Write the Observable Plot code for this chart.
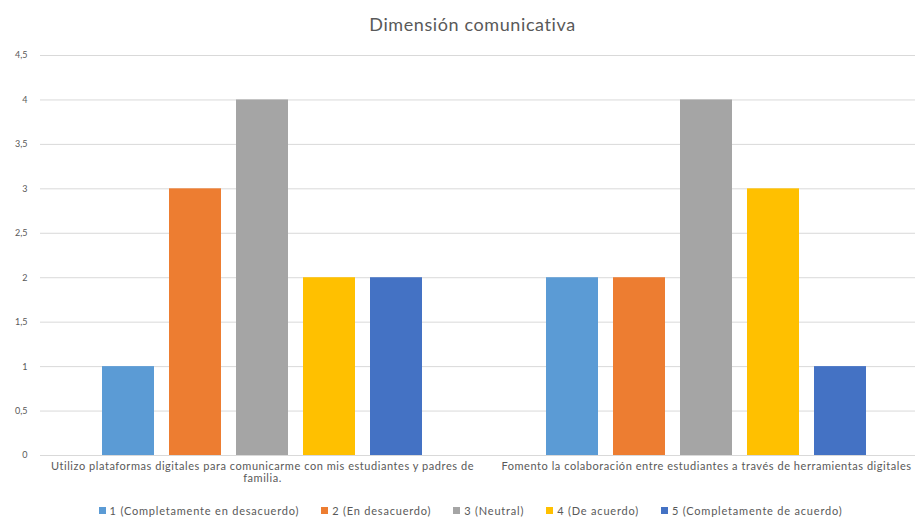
<!DOCTYPE html>
<html><head><meta charset="utf-8">
<script src="https://cdn.jsdelivr.net/npm/d3@7"></script>
<script src="https://cdn.jsdelivr.net/npm/@observablehq/plot@0.6"></script>
<style>
body{margin:0;background:#fff;font-family:Lato,"Open Sans",sans-serif;width:915px;overflow:hidden}
#title{height:44px;text-align:center;font-size:18px;letter-spacing:0.6px;color:#595959;line-height:20px;padding-top:14px;padding-left:30px;box-sizing:border-box}
#legend{padding-left:48px}
#legend .lg-swatches-wrap{justify-content:center !important;min-height:20px !important;margin:0 !important}
#legend .lg-swatch{margin-right:22px !important}
#legend .lg-swatch>svg{margin-right:4px !important}
</style></head><body>
<div id="title">Dimensión comunicativa</div>
<div id="chart"></div>
<div id="legend"></div>
<script>
const categories = [
  "Utilizo plataformas digitales para comunicarme con mis estudiantes y padres de familia.",
  "Fomento la colaboración entre estudiantes a través de herramientas digitales"
];
const categoryLabels = [
  "Utilizo plataformas digitales para comunicarme con mis estudiantes y padres de\nfamilia.",
  "Fomento la colaboración entre estudiantes a través de herramientas digitales"
];
const series = [
  "1 (Completamente en desacuerdo)",
  "2 (En desacuerdo)",
  "3 (Neutral)",
  "4 (De acuerdo)",
  "5 (Completamente de acuerdo)"
];
const valuesItem1 = [1, 3, 4, 2, 2];
const valuesItem2 = [2, 2, 4, 3, 1];
const colors = ["#5B9BD5", "#ED7D31", "#A5A5A5", "#FFC000", "#4472C4"];
const yTicks = [0, 0.5, 1, 1.5, 2, 2.5, 3, 3.5, 4, 4.5];
const yTickLabels = ["0", "0,5", "1", "1,5", "2", "2,5", "3", "3,5", "4", "4,5"];

const rows = [];
[valuesItem1, valuesItem2].forEach((vals, i) =>
  vals.forEach((v, j) => rows.push({item: categories[i], serie: series[j], value: v})));

const chart = Plot.plot({
  width: 915, height: 456,
  marginTop: 11, marginBottom: 45, marginLeft: 40, marginRight: -13,
  style: {fontFamily: "Lato, sans-serif", fontSize: "9px", color: "#595959", background: "#fff", overflow: "visible"},
  fx: {domain: categories, padding: 0, label: null, axis: null},
  x: {domain: series, paddingInner: 0.22, paddingOuter: 0.875, axis: null},
  y: {domain: [0, 4.5], label: null, axis: null},
  color: {domain: series, range: colors},
  marks: [
    Plot.gridY(yTicks, {stroke: "#d9d9d9", strokeOpacity: 1}),
    Plot.axisY(yTicks, {tickSize: 0, tickPadding: 13, label: null, fontSize: 9,
      tickFormat: (d) => yTickLabels[yTicks.indexOf(d)]}),
    Plot.barY(rows, {fx: "item", x: "serie", y: "value", fill: "serie"}),
    Plot.ruleY([0], {stroke: "#d9d9d9"}),
    Plot.axisFx({anchor: "bottom", tickSize: 0, tickPadding: 6, label: null, fontSize: 11, lineHeight: 1.1,
      tickFormat: (d) => categoryLabels[categories.indexOf(d)]})
  ]
});
chart.querySelectorAll("g[aria-label='fx-axis tick label'] text").forEach(t => t.style.letterSpacing = "0.55px");
document.getElementById("chart").appendChild(chart);

const lg = Plot.legend({
  color: {domain: series, range: colors},
  className: "lg",
  swatchSize: 7,
  style: {fontFamily: "Lato, sans-serif", fontSize: "11px", letterSpacing: "0.8px", color: "#595959", background: "#fff"}
});
document.getElementById("legend").appendChild(lg);
</script>
</body></html>
